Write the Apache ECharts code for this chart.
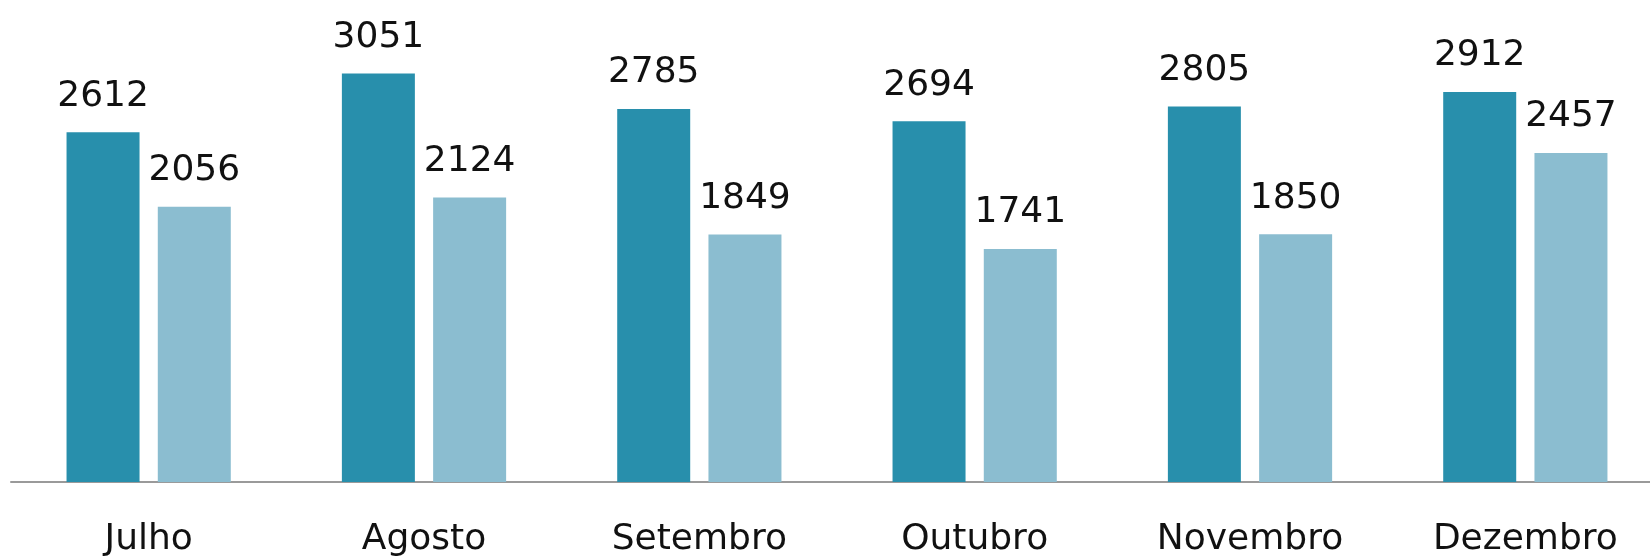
<!DOCTYPE html>
<html>
<head>
<meta charset="utf-8">
<script src="https://cdn.jsdelivr.net/npm/echarts@6/dist/echarts.min.js"></script>
<style>
  html, body { margin: 0; padding: 0; background: #fff; }
  #main { width: 1650px; height: 558px; }
</style>
</head>
<body>
<div id="main"></div>
<script>
// meses e valores
var meses = ['Julho', 'Agosto', 'Setembro', 'Outubro', 'Novembro', 'Dezembro'];
var serie1 = [2612, 3051, 2785, 2694, 2805, 2912];
var serie2 = [2056, 2124, 1849, 1741, 1850, 2457];

var myChart = echarts.init(document.getElementById('main'));

var labelStyle = {
    show: true,
    position: 'top',
    distance: 18,
    color: '#111',
    fontFamily: 'DejaVu Sans',
    fontSize: 36
};

myChart.setOption({
    animation: false,
    grid: {
        left: 11,
        right: -13,
        top: 0,
        bottom: 76,
        containLabel: false,
        outerBoundsMode: 'none'
    },
    xAxis: {
        type: 'category',
        data: meses,
        axisLine: { lineStyle: { color: '#9a9a9a', width: 2 } },
        axisTick: { show: false },
        axisLabel: {
            color: '#111',
            fontFamily: 'DejaVu Sans',
            fontSize: 36,
            margin: 40,
            hideOverlap: false
        }
    },
    yAxis: {
        type: 'value',
        min: 0,
        max: 3600,
        show: false,
        splitLine: { show: false }
    },
    series: [
        {
            type: 'bar',
            data: serie1,
            barWidth: 73,
            barGap: '25%',
            itemStyle: { color: '#288fac' },
            label: labelStyle
        },
        {
            type: 'bar',
            data: serie2,
            barWidth: 73,
            itemStyle: { color: '#8bbdd0' },
            label: labelStyle
        }
    ]
});
</script>
</body>
</html>
